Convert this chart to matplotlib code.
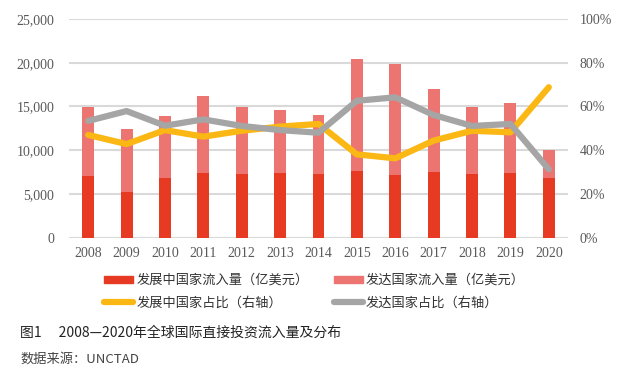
import matplotlib
matplotlib.use('Agg')
import matplotlib.pyplot as plt
from matplotlib.ticker import FuncFormatter, PercentFormatter
from matplotlib.lines import Line2D
from matplotlib.patches import Patch

plt.rcParams['font.family'] = ['Noto Sans CJK SC', 'DejaVu Sans']

years = ['2008', '2009', '2010', '2011', '2012', '2013', '2014',
         '2015', '2016', '2017', '2018', '2019', '2020']
# 亿美元
developing_inflow = [7000, 5200, 6850, 7430, 7320, 7400, 7320, 7660, 7200, 7510, 7320, 7400, 6860]
developed_inflow = [7900, 7200, 7100, 8720, 7630, 7200, 6710, 12770, 12660, 9490, 7620, 8000, 3170]
# 占比（右轴）
developing_share = [47.0, 42.8, 49.2, 46.2, 48.9, 50.8, 52.0, 38.1, 36.3, 44.4, 48.9, 48.2, 68.8]
developed_share = [53.4, 57.9, 51.2, 54.1, 51.1, 49.2, 48.0, 62.6, 64.2, 56.1, 51.1, 52.0, 31.3]

labels = ['发展中国家流入量（亿美元）', '发达国家流入量（亿美元）',
          '发展中国家占比（右轴）', '发达国家占比（右轴）']
caption = '图1\u3000 2008—2020年全球国际直接投资流入量及分布'
source = '数据来源：UNCTAD'

c_dev = '#E63B22'
c_dvd = '#EC7571'
c_dev_line = '#FBB714'
c_dvd_line = '#A5A5A5'
tick_color = '#595959'
serif = 'Liberation Serif'

fig = plt.figure(figsize=(6.28, 3.69), dpi=100)
fig.patch.set_facecolor('white')
ax = fig.add_axes([69 / 628, 1 - 237.7 / 369, 499 / 628, 218.7 / 369])
ax2 = ax.twinx()

x = list(range(len(years)))
w = 0.31
ax.bar(x, developing_inflow, w, color=c_dev, zorder=2)
ax.bar(x, developed_inflow, w, bottom=developing_inflow, color=c_dvd, zorder=2)

ax.set_xlim(-0.5, len(years) - 0.5)
ax.set_ylim(0, 25000)
ax.set_yticks(range(0, 25001, 5000))
ax.yaxis.set_major_formatter(FuncFormatter(lambda v, p: f'{int(v):,}'))
ax.set_xticks(x)
ax.set_xticklabels(years)
ax.grid(axis='y', color='#D9D9D9', linewidth=1.5, zorder=0)
ax.set_axisbelow(True)

ax2.plot(x, developing_share, color=c_dev_line, linewidth=4.5,
         solid_capstyle='round', solid_joinstyle='round', zorder=3)
ax2.plot(x, developed_share, color=c_dvd_line, linewidth=4.5,
         solid_capstyle='round', solid_joinstyle='round', zorder=4)
ax2.set_ylim(0, 100)
ax2.set_yticks(range(0, 101, 20))
ax2.yaxis.set_major_formatter(PercentFormatter(decimals=0))

for a in (ax, ax2):
    for s in a.spines.values():
        s.set_visible(False)
    a.tick_params(length=0, colors=tick_color, labelsize=10)
    for t in a.get_xticklabels() + a.get_yticklabels():
        t.set_fontfamily(serif)
ax.tick_params(axis='y', pad=10.5)
ax.tick_params(axis='x', pad=7)
ax2.tick_params(axis='y', pad=8.5)

handles = [Patch(color=c_dev), Line2D([], [], color=c_dev_line, lw=4.5, solid_capstyle='round'),
           Patch(color=c_dvd), Line2D([], [], color=c_dvd_line, lw=4.5, solid_capstyle='round')]
leg_labels = [labels[0], labels[2], labels[1], labels[3]]
fig.legend(handles, leg_labels, ncol=2, loc='upper left',
           bbox_to_anchor=(104 / 628, 1 - 274 / 369), frameon=False,
           fontsize=9.5, handlelength=2.2, handleheight=0.45, handletextpad=0.25,
           columnspacing=1.9, labelspacing=0.7, borderpad=0, borderaxespad=0,
           labelcolor='#333333')

fig.text(20 / 628, 1 - 333 / 369, caption, fontsize=10, color='#222222', va='center')
fig.text(20 / 628, 1 - 359 / 369, source, fontsize=9.5, color='#444444', va='center')

fig.savefig('out.png', dpi=100, facecolor='white')
plt.close(fig)
